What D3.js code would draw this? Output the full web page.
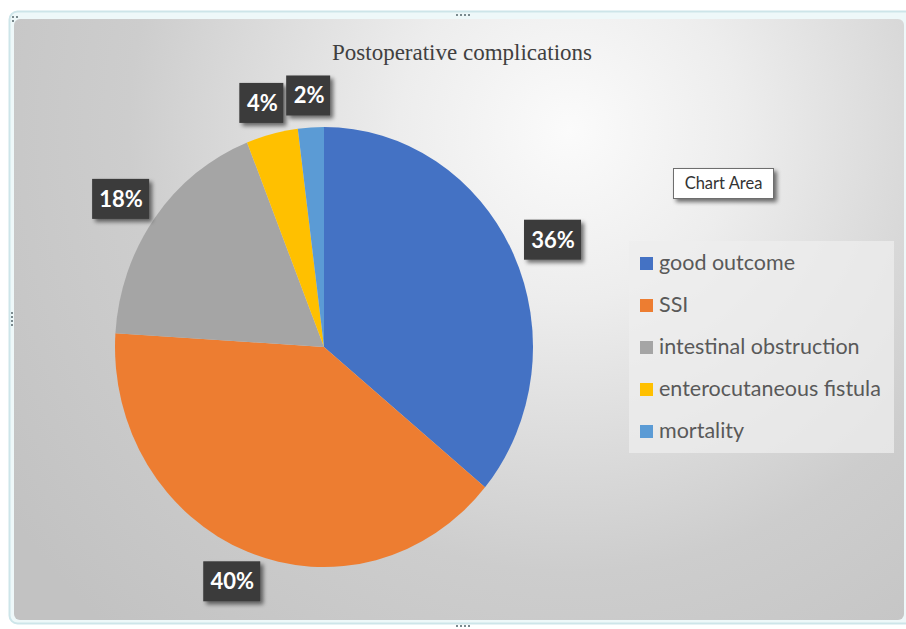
<!DOCTYPE html>
<html>
<head>
<meta charset="utf-8">
<script src="https://cdn.jsdelivr.net/npm/d3@7"></script>
<style>
  html, body { margin: 0; padding: 0; background: #ffffff; }
  svg { display: block; }
</style>
</head>
<body>
<svg id="chart" width="906" height="629"></svg>
<script>
// Postoperative outcome shares (percent)
const categories = ["good outcome", "SSI", "intestinal obstruction", "enterocutaneous fistula", "mortality"];
const values = [36, 40, 18, 4, 2];
const sliceColors = ["#4472C4", "#ED7D31", "#A5A5A5", "#FFC000", "#5B9BD5"];
const titleText = "Postoperative complications";

const svg = d3.select("#chart");
const defs = svg.append("defs");

// Chart area background gradient
const grad = defs.append("radialGradient")
  .attr("id", "bg")
  .attr("gradientUnits", "userSpaceOnUse")
  .attr("cx", 570).attr("cy", 130).attr("r", 680);
grad.append("stop").attr("offset", "0%").attr("stop-color", "#fbfbfb");
grad.append("stop").attr("offset", "25%").attr("stop-color", "#ededed");
grad.append("stop").attr("offset", "65%").attr("stop-color", "#cdcdcd");
grad.append("stop").attr("offset", "100%").attr("stop-color", "#c2c2c2");

const shadow = defs.append("filter").attr("id", "shadow")
  .attr("x", "-30%").attr("y", "-30%").attr("width", "170%").attr("height", "170%");
shadow.append("feGaussianBlur").attr("in", "SourceAlpha").attr("stdDeviation", 2.2).attr("result", "b");
shadow.append("feOffset").attr("in", "b").attr("dx", 3).attr("dy", 3).attr("result", "o");
shadow.append("feComponentTransfer").attr("in", "o").attr("result", "s")
  .append("feFuncA").attr("type", "linear").attr("slope", 0.55);
const merge = shadow.append("feMerge");
merge.append("feMergeNode").attr("in", "s");
merge.append("feMergeNode").attr("in", "SourceGraphic");

// Selection frame around the chart
svg.append("rect")
  .attr("x", 9.5).attr("y", 11.5).attr("width", 905).attr("height", 612)
  .attr("rx", 8)
  .attr("fill", "#eef8f9").attr("stroke", "#cde5e9").attr("stroke-width", 2);

// Chart area
svg.append("rect")
  .attr("x", 14).attr("y", 19).attr("width", 890).attr("height", 601)
  .attr("rx", 6)
  .attr("fill", "url(#bg)");

// Frame handles
const handleDots = [
  ...d3.range(4).map(i => [457 + i * 4, 15]),
  ...d3.range(4).map(i => [457 + i * 4, 626]),
  ...d3.range(4).map(i => [12, 313 + i * 4]),
  [13, 17], [17, 17], [13, 21]
];
svg.append("g").selectAll("rect").data(handleDots).join("rect")
  .attr("x", d => d[0] - 1).attr("y", d => d[1] - 1)
  .attr("width", 2).attr("height", 2)
  .attr("fill", "#7a8a8e");

// Title
svg.append("text")
  .attr("x", 462).attr("y", 60)
  .attr("text-anchor", "middle")
  .attr("font-family", "'Liberation Serif', 'DejaVu Serif', serif")
  .attr("font-size", 23)
  .attr("fill", "#404040")
  .text(titleText);

// Pie (drawn slightly taller than wide)
const cx = 324, cy = 347, radius = 209, yScale = 1.053;
const pie = d3.pie().sort(null).value(d => d)(values);
const arc = d3.arc().innerRadius(0).outerRadius(radius);
const labelArc = d3.arc().innerRadius(252).outerRadius(252);

const g = svg.append("g").attr("transform", `translate(${cx},${cy})`);
g.append("g").attr("transform", `scale(1,${yScale})`)
  .selectAll("path").data(pie).join("path")
  .attr("d", arc)
  .attr("fill", (d, i) => sliceColors[i])
  .attr("stroke", "none");

// Data labels
const labels = g.selectAll("g.lbl").data(pie).join("g")
  .attr("class", "lbl")
  .attr("transform", d => `translate(${labelArc.centroid(d)})`);
labels.append("rect")
  .attr("x", d => d.data >= 10 ? -28 : -22)
  .attr("y", -20)
  .attr("width", d => d.data >= 10 ? 57 : 44)
  .attr("height", 40)
  .attr("fill", "#3a3a3a")
  .attr("filter", "url(#shadow)");
labels.append("text")
  .attr("x", 1)
  .attr("y", 8)
  .attr("text-anchor", "middle")
  .attr("font-family", "Lato, 'Open Sans', sans-serif")
  .attr("font-weight", "bold")
  .attr("font-size", 22)
  .attr("fill", "#ffffff")
  .text(d => d.data + "%");

// Legend
const legend = svg.append("g");
legend.append("rect")
  .attr("x", 629).attr("y", 241).attr("width", 265).attr("height", 212)
  .attr("fill", "#eeeeee").attr("opacity", 0.75);
const rowY = d3.scalePoint().domain(categories).range([263, 431]);
const items = legend.selectAll("g.item").data(categories).join("g")
  .attr("class", "item")
  .attr("transform", d => `translate(0,${rowY(d)})`);
items.append("rect")
  .attr("x", 640).attr("y", -6).attr("width", 13).attr("height", 13)
  .attr("fill", (d, i) => sliceColors[i]);
items.append("text")
  .attr("x", 659).attr("y", 7)
  .attr("font-family", "Lato, 'Open Sans', sans-serif")
  .attr("font-size", 21.5)
  .attr("fill", "#595959")
  .text(d => d);

// "Chart Area" tooltip
const tip = svg.append("g");
tip.append("rect")
  .attr("x", 673.5).attr("y", 168.5).attr("width", 100).attr("height", 30)
  .attr("fill", "#ffffff").attr("stroke", "#6e6e6e").attr("stroke-width", 1)
  .attr("filter", "url(#shadow)");
tip.append("text")
  .attr("x", 723.5).attr("y", 189)
  .attr("text-anchor", "middle")
  .attr("font-family", "Lato, 'Open Sans', sans-serif")
  .attr("font-size", 16.5)
  .attr("fill", "#333333")
  .text("Chart Area");
</script>
</body>
</html>
